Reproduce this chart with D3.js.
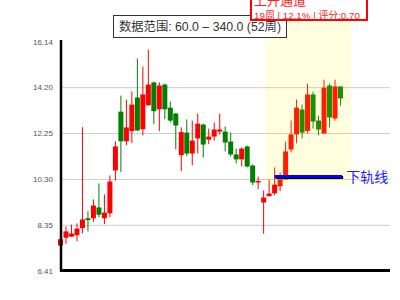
<!DOCTYPE html>
<html>
<head>
<meta charset="utf-8">
<script src="https://cdn.jsdelivr.net/npm/d3@7"></script>
<style>
    body { margin: 0; background: #fff; }
    text { font-family: "Liberation Sans", "Noto Sans CJK SC", sans-serif; }
</style>
</head>
<body>
<div id="chart"></div>
<script>
/* Weekly candle values (52 weeks). */
const opens  = [7.47, 7.80, 7.85, 7.91, 8.21, 8.63, 8.63, 9.09, 8.63, 8.84, 10.66, 13.16, 11.90, 12.33, 13.76, 12.41,
                13.43, 14.40, 13.26, 14.31, 13.33, 13.08, 11.31, 12.27, 11.38, 12.02, 12.61, 11.97, 12.10, 12.31, 12.31, 11.89,
                11.34, 11.13, 11.68, 10.87, 10.15, 9.30, 9.57, 9.69, 9.99, 10.28, 11.55, 12.19, 13.25, 12.34, 13.89, 12.78,
                12.23, 14.27, 12.87, 14.23];
const closes = [7.74, 8.07, 7.98, 8.19, 8.58, 8.55, 9.17, 8.78, 8.87, 10.19, 11.68, 11.90, 12.49, 13.46, 12.36, 13.89,
                14.31, 13.18, 14.27, 13.26, 12.78, 12.57, 12.29, 11.38, 11.93, 12.65, 11.76, 12.10, 12.40, 12.40, 11.85, 11.34,
                11.13, 11.59, 10.83, 10.15, 10.21, 9.51, 9.68, 10.06, 10.28, 11.47, 12.19, 13.33, 12.27, 13.89, 12.74, 12.40,
                14.18, 12.91, 14.23, 13.72];
const highs  = [7.82, 8.28, 8.36, 8.41, 12.50, 8.93, 9.43, 10.11, 9.64, 10.45, 11.90, 13.84, 13.67, 14.01, 15.42, 15.08,
                15.80, 14.44, 14.40, 14.35, 13.59, 13.10, 12.49, 12.83, 12.78, 13.08, 12.65, 12.44, 12.70, 13.08, 12.53, 12.27,
                11.59, 11.64, 11.72, 10.91, 10.40, 9.81, 10.28, 10.79, 10.57, 11.89, 12.78, 13.67, 13.46, 14.35, 14.01, 12.99,
                14.52, 14.35, 14.52, 14.23];
const lows   = [7.34, 7.54, 7.83, 7.65, 7.99, 8.07, 8.48, 8.67, 8.38, 8.67, 10.23, 10.59, 11.73, 11.82, 12.34, 12.15,
                13.42, 12.63, 12.33, 12.84, 12.70, 11.56, 10.63, 11.27, 10.88, 11.38, 11.21, 11.78, 11.93, 12.19, 11.47, 11.25,
                10.96, 10.83, 10.79, 10.04, 9.87, 7.97, 9.55, 9.61, 9.78, 10.28, 11.42, 11.81, 12.02, 12.23, 12.44, 12.15,
                12.21, 12.49, 12.78, 13.42];

/* Axis values. */
const yTicks = [6.41, 8.35, 10.30, 12.25, 14.20, 16.14];
const dayRange = [60, 340];

/* Annotations. */
const titleText = '数据范围: 60.0 – 340.0 (52周)';
const channelName = '上升通道';
const channelInfo = '19周 | 12.1% | 评分:0.70';
const channel = {from: 37.2, to: 53, low: 10.04, high: 17.0};
const lowerLine = {from: 39, to: 51.3, value: 10.40, label: '下轨线'};

const W = 400, H = 300;
const plot = {left: 61, right: 390, top: 41.5, bottom: 270.5};

const svg = d3.select('#chart').append('svg')
    .attr('width', W)
    .attr('height', H);

const data = opens.map(function (o, i) {
    return {i: i, open: o, close: closes[i], high: highs[i], low: lows[i]};
});

// Scales.
const day = d3.scaleLinear().domain(dayRange).range([60.5, 340.5]);
const x = d3.scaleLinear().domain([0, data.length - 1]).range([day(dayRange[0]), day(dayRange[1])]);
const y = d3.scaleLinear().domain([yTicks[0], yTicks[yTicks.length - 1]]).range([plot.bottom, plot.top]);

// Gridlines.
svg.append('g')
    .attr('transform', 'translate(' + plot.left + ',0)')
    .call(d3.axisLeft(y).tickValues(yTicks.slice(1, -1)).tickSize(-(plot.right - plot.left)).tickFormat(''))
    .call(function (g) {
        g.select('.domain').remove();
        g.selectAll('line').attr('stroke', '#cccccc').attr('stroke-width', 1);
    });

// Candles.
const candle = svg.append('g').selectAll('g')
    .data(data)
    .enter()
    .append('g')
    .attr('fill', function (d) { return d.close >= d.open ? '#ff0000' : '#008000'; })
    .attr('stroke', function (d) { return d.close >= d.open ? '#ff0000' : '#008000'; });

candle.append('line')
    .attr('x1', function (d) { return x(d.i); })
    .attr('x2', function (d) { return x(d.i); })
    .attr('y1', function (d) { return y(d.high); })
    .attr('y2', function (d) { return y(d.low); })
    .attr('stroke-width', 1);

candle.append('rect')
    .attr('stroke', 'none')
    .attr('x', function (d) { return x(d.i) - 2.5; })
    .attr('width', 5)
    .attr('y', function (d) { return y(Math.max(d.open, d.close)); })
    .attr('height', function (d) { return Math.max(1.5, Math.abs(y(d.open) - y(d.close))); });

// Channel highlight.
svg.append('rect')
    .attr('x', x(channel.from))
    .attr('width', x(channel.to) - x(channel.from))
    .attr('y', y(channel.high))
    .attr('height', y(channel.low) - y(channel.high))
    .attr('fill', '#ffff00')
    .attr('opacity', 0.12);

// Lower rail line.
svg.append('line')
    .attr('x1', x(lowerLine.from) + 1).attr('x2', x(lowerLine.to) + 1)
    .attr('y1', y(lowerLine.value) + 1).attr('y2', y(lowerLine.value) + 1)
    .attr('stroke', '#000').attr('stroke-width', 3);
svg.append('line')
    .attr('x1', x(lowerLine.from)).attr('x2', x(lowerLine.to))
    .attr('y1', y(lowerLine.value)).attr('y2', y(lowerLine.value))
    .attr('stroke', '#0000ff').attr('stroke-width', 3);
svg.append('text')
    .attr('x', x(lowerLine.to) + 4)
    .attr('y', y(lowerLine.value) + 5)
    .attr('fill', '#2222ff')
    .style('font-size', '14px')
    .text(lowerLine.label);

// Axes.
svg.append('g')
    .attr('transform', 'translate(' + plot.left + ',0)')
    .call(d3.axisLeft(y).tickValues(yTicks).tickSize(0).tickPadding(8).tickFormat(d3.format('.2f')))
    .call(function (g) {
        g.select('.domain').remove();
        g.selectAll('text').attr('fill', '#555').style('font-size', '8px');
    });

svg.append('line')
    .attr('x1', plot.left).attr('x2', plot.left)
    .attr('y1', 40).attr('y2', plot.bottom + 1)
    .attr('stroke', '#000').attr('stroke-width', 2.5);
svg.append('line')
    .attr('x1', plot.left - 1).attr('x2', plot.right)
    .attr('y1', plot.bottom).attr('y2', plot.bottom)
    .attr('stroke', '#000').attr('stroke-width', 3);

// Title box.
svg.append('rect')
    .attr('x', 113.5).attr('y', 15.5)
    .attr('width', 173).attr('height', 22)
    .attr('fill', '#fff').attr('stroke', '#333').attr('stroke-width', 1);
svg.append('text')
    .attr('x', 200).attr('y', 31)
    .attr('text-anchor', 'middle')
    .attr('fill', '#333')
    .style('font-size', '12.3px')
    .text(titleText);

// Channel label box.
svg.append('rect')
    .attr('x', 251).attr('y', -20)
    .attr('width', 116).attr('height', 40)
    .attr('fill', '#fff').attr('stroke', '#ff0000').attr('stroke-width', 2);
svg.append('text')
    .attr('x', 254).attr('y', 5)
    .attr('fill', '#ff2222')
    .style('font-size', '13px')
    .text(channelName);
svg.append('text')
    .attr('x', 254).attr('y', 18.5)
    .attr('fill', '#ff2222')
    .style('font-size', '9.8px')
    .text(channelInfo);
</script>
</body>
</html>
